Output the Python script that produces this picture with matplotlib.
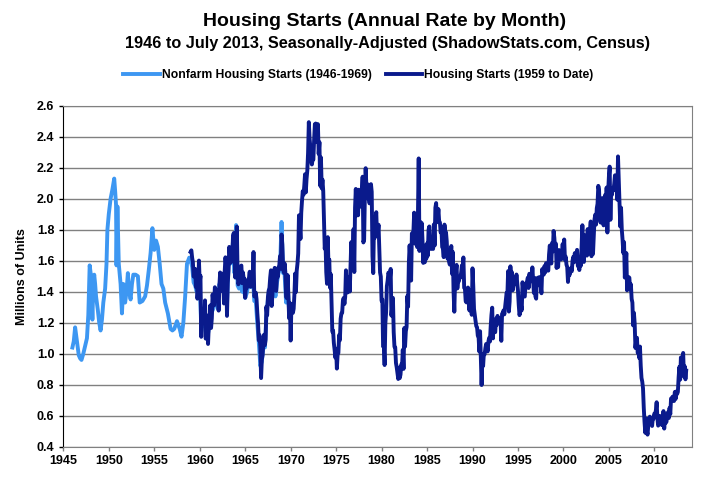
import numpy as np
import matplotlib
matplotlib.use("Agg")
import matplotlib.pyplot as plt

# Nonfarm housing starts (1946-1969), millions
nonfarm_years = [
    1946.0, 1946.15, 1946.3, 1946.5, 1946.7, 1946.85, 1947.0, 1947.2, 1947.4, 1947.6,
    1947.75, 1947.9, 1948.05, 1948.2, 1948.3, 1948.4, 1948.5, 1948.6, 1948.8, 1948.95,
    1949.1, 1949.25, 1949.4, 1949.6, 1949.75, 1949.85, 1950.0, 1950.2, 1950.4, 1950.6,
    1950.7, 1950.8, 1950.85, 1950.95, 1951.1, 1951.3, 1951.45, 1951.6, 1951.8, 1951.95,
    1952.1, 1952.2, 1952.4, 1952.55, 1952.7, 1952.95, 1953.2, 1953.4, 1953.7, 1954.0,
    1954.2, 1954.4, 1954.6, 1954.8, 1955.0, 1955.2, 1955.4, 1955.6, 1955.8, 1956.0,
    1956.2, 1956.5, 1956.8, 1957.0, 1957.2, 1957.5, 1957.8, 1958.0, 1958.2, 1958.4,
    1958.6, 1958.85,
    1959.0, 1959.17, 1959.33, 1959.5, 1959.67, 1959.83,
    1960.0, 1960.17, 1960.33, 1960.5, 1960.67, 1960.83,
    1961.0, 1961.17, 1961.33, 1961.5, 1961.67, 1961.83,
    1962.0, 1962.17, 1962.33, 1962.5, 1962.67, 1962.83,
    1963.0, 1963.17, 1963.33, 1963.5, 1963.67, 1963.83,
    1964.0, 1964.17, 1964.33, 1964.5, 1964.67, 1964.83,
    1965.0, 1965.17, 1965.33, 1965.5, 1965.67, 1965.83,
    1966.0, 1966.17, 1966.33, 1966.5, 1966.67, 1966.83,
    1967.0, 1967.17, 1967.33, 1967.5, 1967.67, 1967.83,
    1968.0, 1968.17, 1968.33, 1968.5, 1968.67, 1968.83,
    1969.0, 1969.17, 1969.33, 1969.5, 1969.67, 1969.83,
]
nonfarm_values = [
    1.04, 1.08, 1.17, 1.08, 0.99, 0.97, 0.96, 1.00, 1.05, 1.10,
    1.25, 1.57, 1.50, 1.22, 1.45, 1.51, 1.45, 1.37, 1.28, 1.20,
    1.15, 1.22, 1.33, 1.42, 1.58, 1.80, 1.90, 2.00, 2.06, 2.13,
    2.05, 1.96, 1.57, 1.95, 1.58, 1.45, 1.26, 1.45, 1.33, 1.40,
    1.52, 1.42, 1.35, 1.45, 1.51, 1.51, 1.50, 1.33, 1.34, 1.37,
    1.44, 1.54, 1.65, 1.81, 1.67, 1.73, 1.69, 1.58, 1.45, 1.42,
    1.33, 1.26, 1.16, 1.15, 1.16, 1.21, 1.16, 1.11, 1.20, 1.37,
    1.58, 1.62,
    1.60, 1.56, 1.46, 1.44, 1.40, 1.46,
    1.45, 1.17, 1.22, 1.23, 1.13, 1.10,
    1.16, 1.20, 1.27, 1.29, 1.38, 1.34,
    1.29, 1.45, 1.41, 1.45, 1.39, 1.55,
    1.32, 1.58, 1.58, 1.59, 1.73, 1.52,
    1.83, 1.44, 1.42, 1.47, 1.40, 1.44,
    1.36, 1.39, 1.44, 1.44, 1.43, 1.52,
    1.34, 1.34, 1.20, 1.07, 0.92, 0.95,
    1.06, 1.04, 1.24, 1.35, 1.42, 1.39,
    1.41, 1.47, 1.37, 1.46, 1.52, 1.55,
    1.85, 1.52, 1.52, 1.33, 1.44, 1.28,
]

# Total housing starts, monthly from Jan 1959 to Jul 2013, thousands (SAAR)
total_start_year = 1959
total_starts = [
    1657, 1667, 1620, 1590, 1498, 1503, 1547, 1430, 1540, 1355, 1416, 1601,  # 1959
    1460, 1503, 1109, 1289, 1271, 1247, 1197, 1344, 1097, 1246, 1246, 1063,  # 1960
    1183, 1226, 1312, 1166, 1228, 1382, 1335, 1312, 1429, 1415, 1385, 1365,  # 1961
    1361, 1278, 1443, 1524, 1483, 1404, 1450, 1517, 1324, 1533, 1622, 1564,  # 1962
    1244, 1456, 1534, 1689, 1641, 1588, 1614, 1639, 1763, 1779, 1622, 1491,  # 1963
    1603, 1820, 1517, 1448, 1467, 1550, 1562, 1569, 1455, 1524, 1486, 1484,  # 1964
    1361, 1433, 1423, 1438, 1478, 1488, 1529, 1432, 1482, 1452, 1460, 1656,  # 1965
    1370, 1378, 1394, 1352, 1265, 1194, 1086, 1119, 1046, 843, 961, 990,     # 1966
    1067, 1123, 1056, 1091, 1304, 1248, 1364, 1407, 1421, 1491, 1538, 1308,  # 1967
    1380, 1520, 1466, 1554, 1408, 1405, 1512, 1495, 1556, 1569, 1630, 1548,  # 1968
    1769, 1705, 1561, 1524, 1583, 1528, 1368, 1358, 1507, 1381, 1229, 1327,  # 1969
    1085, 1305, 1319, 1264, 1290, 1385, 1517, 1399, 1534, 1580, 1647, 1893,  # 1970
    1828, 1741, 1910, 1986, 2049, 2026, 2083, 2158, 2041, 2128, 2182, 2295,  # 1971
    2494, 2390, 2334, 2249, 2221, 2254, 2252, 2382, 2481, 2485, 2421, 2366,  # 1972
    2481, 2289, 2365, 2084, 2266, 2067, 2123, 2051, 1874, 1677, 1724, 1526,  # 1973
    1451, 1752, 1555, 1607, 1426, 1513, 1316, 1142, 1150, 1070, 1026, 975,   # 1974
    1032, 904, 993, 1005, 1121, 1087, 1226, 1260, 1264, 1344, 1360, 1321,    # 1975
    1367, 1538, 1421, 1395, 1459, 1495, 1401, 1550, 1720, 1629, 1641, 1804,  # 1976
    1527, 1943, 2063, 1892, 1971, 1893, 2058, 2020, 1949, 2042, 2042, 2142,  # 1977
    1718, 1738, 2032, 2197, 2075, 2070, 2092, 1996, 1970, 1981, 2094, 2044,  # 1978
    1630, 1520, 1847, 1748, 1876, 1913, 1760, 1778, 1832, 1681, 1524, 1498,  # 1979
    1341, 1350, 1047, 1051, 927, 1196, 1269, 1436, 1471, 1523, 1510, 1482,   # 1980
    1547, 1246, 1306, 1360, 1140, 1045, 1041, 940, 911, 873, 837, 910,       # 1981
    843, 866, 931, 917, 1025, 902, 1166, 1046, 1144, 1173, 1372, 1303,       # 1982
    1586, 1699, 1606, 1472, 1776, 1733, 1785, 1910, 1710, 1715, 1785, 1688,  # 1983
    1897, 2260, 1663, 1851, 1774, 1843, 1732, 1586, 1698, 1590, 1689, 1612,  # 1984
    1711, 1632, 1800, 1821, 1680, 1676, 1684, 1743, 1676, 1834, 1698, 1942,  # 1985
    1972, 1848, 1876, 1933, 1854, 1847, 1782, 1807, 1687, 1681, 1623, 1833,  # 1986
    1774, 1784, 1726, 1614, 1628, 1594, 1575, 1605, 1695, 1515, 1656, 1400,  # 1987
    1271, 1473, 1532, 1573, 1421, 1478, 1467, 1493, 1492, 1522, 1569, 1563,  # 1988
    1621, 1425, 1422, 1339, 1331, 1397, 1427, 1332, 1279, 1410, 1351, 1251,  # 1989
    1551, 1437, 1289, 1248, 1212, 1177, 1171, 1115, 1110, 1014, 1145, 969,   # 1990
    798, 965, 921, 1001, 996, 1036, 1063, 1049, 1015, 1079, 1103, 1079,      # 1991
    1176, 1250, 1297, 1099, 1214, 1145, 1139, 1226, 1186, 1244, 1214, 1227,  # 1992
    1210, 1210, 1083, 1258, 1260, 1280, 1254, 1300, 1343, 1392, 1376, 1533,  # 1993
    1272, 1337, 1564, 1465, 1526, 1409, 1439, 1450, 1474, 1450, 1511, 1455,  # 1994
    1407, 1316, 1249, 1267, 1314, 1281, 1461, 1416, 1369, 1369, 1452, 1431,  # 1995
    1467, 1491, 1424, 1516, 1504, 1467, 1472, 1557, 1475, 1392, 1489, 1370,  # 1996
    1355, 1486, 1457, 1492, 1442, 1494, 1437, 1390, 1546, 1520, 1510, 1566,  # 1997
    1525, 1584, 1567, 1540, 1536, 1641, 1698, 1614, 1582, 1715, 1660, 1792,  # 1998
    1748, 1670, 1710, 1553, 1611, 1559, 1669, 1648, 1635, 1608, 1648, 1708,  # 1999
    1636, 1737, 1604, 1626, 1575, 1559, 1463, 1541, 1507, 1549, 1551, 1532,  # 2000
    1600, 1625, 1590, 1649, 1605, 1636, 1670, 1567, 1562, 1540, 1602, 1568,  # 2001
    1698, 1829, 1642, 1592, 1764, 1717, 1655, 1633, 1804, 1648, 1753, 1788,  # 2002
    1853, 1629, 1726, 1643, 1751, 1867, 1897, 1833, 1939, 1967, 2083, 2057,  # 2003
    1911, 1846, 1998, 2003, 1981, 1828, 2002, 2024, 1905, 2072, 1782, 2042,  # 2004
    2144, 2207, 1864, 2061, 2025, 2068, 2054, 2095, 2151, 2065, 2147, 1994,  # 2005
    2273, 2119, 1969, 1821, 1942, 1802, 1737, 1650, 1720, 1491, 1570, 1649,  # 2006
    1409, 1480, 1495, 1490, 1415, 1448, 1354, 1330, 1183, 1264, 1197, 1037,  # 2007
    1084, 1103, 1005, 1013, 973, 1046, 923, 844, 820, 777, 652, 560,         # 2008
    490, 582, 505, 478, 540, 585, 594, 586, 585, 534, 588, 581,              # 2009
    614, 604, 636, 687, 583, 536, 546, 599, 594, 543, 545, 539,              # 2010
    630, 517, 600, 554, 561, 608, 623, 585, 650, 610, 711, 694,              # 2011
    723, 704, 695, 753, 708, 757, 740, 754, 847, 915, 833, 976,              # 2012
    888, 962, 1005, 852, 919, 835, 891,                                      # 2013
]

x_ticks = list(range(1945, 2015, 5))
y_ticks = [0.4, 0.6, 0.8, 1.0, 1.2, 1.4, 1.6, 1.8, 2.0, 2.2, 2.4, 2.6]

plt.rcParams['font.family'] = ['Liberation Sans', 'DejaVu Sans']
plt.rcParams['font.weight'] = 'bold'

fig = plt.figure(figsize=(7.21, 4.94), dpi=100)
ax = fig.add_axes([0.0878, 0.0957, 0.8715, 0.6903])

total_x = total_start_year + np.arange(len(total_starts)) / 12.0
total_y = np.array(total_starts) / 1000.0

ax.plot(nonfarm_years, nonfarm_values, color='#3D97F2', lw=2.8,
        label='Nonfarm Housing Starts (1946-1969)', solid_joinstyle='round')
ax.plot(total_x, total_y, color='#0A1A8C', lw=2.8,
        label='Housing Starts (1959 to Date)', solid_joinstyle='round')

ax.set_xlim(1945, 2014.1)
ax.set_ylim(0.4, 2.6)
ax.set_xticks(x_ticks)
ax.set_yticks(y_ticks)
ax.set_yticklabels([f'{v:.1f}' for v in y_ticks])
ax.tick_params(axis='both', labelsize=9, length=3, width=1, direction='out', colors='black')
ax.tick_params(axis='x', pad=3, colors='#808080', labelcolor='black')
ax.grid(axis='y', color='#808080', lw=1)
ax.set_axisbelow(True)
for side in ['top', 'right', 'bottom']:
    ax.spines[side].set_color('#808080')
ax.spines['left'].set_color('black')
ax.set_ylabel('Millions of Units', fontsize=9, fontweight='bold', labelpad=6)

fig.text(0.534, 0.956, 'Housing Starts (Annual Rate by Month)', ha='center', va='center',
         fontsize=14, fontweight='bold')
fig.text(0.538, 0.912, '1946 to July 2013, Seasonally-Adjusted (ShadowStats.com, Census)',
         ha='center', va='center', fontsize=11.7, fontweight='bold')
fig.legend(loc='center', bbox_to_anchor=(0.497, 0.848), ncol=2, frameon=False,
           fontsize=8.7, handlelength=3.0, handletextpad=0.15, columnspacing=1.2)

fig.savefig('out.png', dpi=100)
